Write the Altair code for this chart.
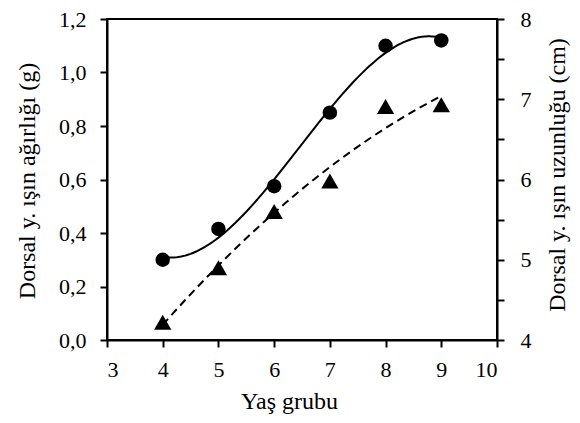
import altair as alt
import pandas as pd

ages = [4, 5, 6, 7, 8, 9]
weight = [0.30, 0.415, 0.575, 0.85, 1.10, 1.12]
length = [4.22, 4.90, 5.60, 5.98, 6.91, 6.93]

x_ticks = [3, 4, 5, 6, 7, 8, 9, 10]
left_ticks = [0.0, 0.2, 0.4, 0.6, 0.8, 1.0, 1.2]
right_ticks = [4, 4.5, 5, 5.5, 6, 6.5, 7, 7.5, 8]

df = pd.DataFrame({"age": ages, "w": weight, "l": length})

FONT = "Liberation Serif"
W, H = 390, 321
TOP = 11

x_enc = alt.X("age:Q", scale=alt.Scale(domain=[3, 10], nice=False),
              axis=alt.Axis(values=x_ticks, title="Yaş grubu", format="d",
                            labelPadding=12, titleX=182, titleY=68,
                            titleAlign="center", titleBaseline="alphabetic"))

left_axis = alt.Axis(values=left_ticks, orient="left",
                     title="Dorsal y. ışın ağırlığı (g)",
                     labelExpr="replace(format(datum.value, '.1f'), '.', ',')",
                     labelPadding=14, labelOverlap=False,
                     titleAngle=270, titleX=-80, titleY=H / 2 + 1,
                     titleAlign="center", titleBaseline="middle")
right_axis = alt.Axis(values=right_ticks, orient="right",
                      title="Dorsal y. ışın uzunluğu (cm)",
                      labelExpr="datum.value % 1 == 0 ? format(datum.value, 'd') : ''",
                      labelPadding=16, labelOverlap=False,
                      titleAngle=270, titleX=60, titleY=H / 2 - 5,
                      titleAlign="center", titleBaseline="middle")

w_scale = alt.Scale(domain=[0, 1.2], nice=False)
l_scale = alt.Scale(domain=[4, 8], nice=False)

base = alt.Chart(df)

w_pts = base.mark_point(shape="circle", filled=True, color="black", size=210, opacity=1).encode(
    x=x_enc, y=alt.Y("w:Q", scale=w_scale, axis=left_axis))
w_line = base.transform_regression("age", "w", method="poly", order=3).mark_line(
    color="black", strokeWidth=2).encode(
    x=x_enc, y=alt.Y("w:Q", scale=w_scale, axis=left_axis))

l_pts = base.mark_point(shape="triangle-up", filled=True, color="black", size=300, opacity=1).encode(
    x=x_enc, y=alt.Y("l:Q", scale=l_scale, axis=right_axis))
l_line = base.transform_regression("age", "l", method="poly", order=2).mark_line(
    color="black", strokeWidth=2, strokeDash=[8, 5]).encode(
    x=x_enc, y=alt.Y("l:Q", scale=l_scale, axis=right_axis))

left = alt.layer(w_line, w_pts)
right = alt.layer(l_line, l_pts)

chart = alt.layer(left, right).resolve_scale(y="independent").properties(
    width=W, height=H,
    background="white",
    autosize=alt.AutoSizeParams(type="none"),
    padding={"left": 99, "top": TOP, "right": 75, "bottom": 75},
).configure_view(stroke="black", strokeWidth=2).configure_axis(
    grid=False, domainColor="black", domainWidth=2, tickColor="black", tickWidth=2,
    tickSize=7, labelFont=FONT, titleFont=FONT, labelFontSize=22, titleFontSize=24,
    labelColor="black", titleColor="black", titleFontWeight="normal",
)

chart.save("out.html", embed_options={"renderer": "svg", "actions": False})
